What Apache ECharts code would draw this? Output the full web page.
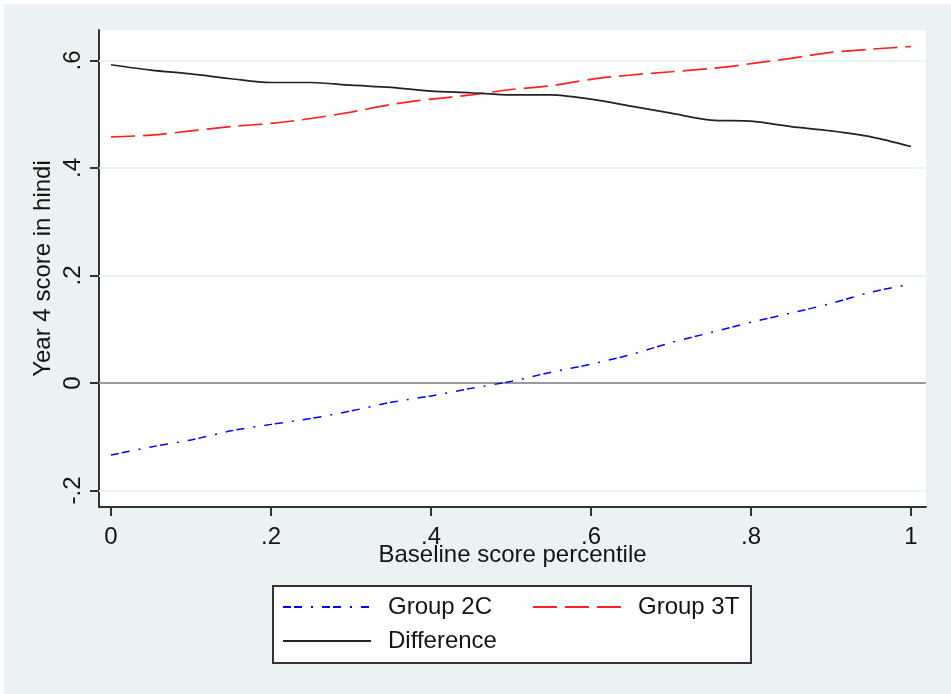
<!DOCTYPE html>
<html>
<head>
<meta charset="utf-8">
<title>Year 4 score in hindi</title>
<script src="https://cdn.jsdelivr.net/npm/echarts@6/dist/echarts.min.js"></script>
<style>
  html, body { margin: 0; padding: 0; background: #fff; }
  #main { width: 951px; height: 694px; }
</style>
</head>
<body>
<div id="main"></div>
<script>
// baseline score percentile
const percentiles = [0, 0.05, 0.1, 0.15, 0.2, 0.25, 0.3, 0.35, 0.4, 0.45, 0.5,
  0.55, 0.6, 0.65, 0.7, 0.75, 0.8, 0.85, 0.9, 0.95, 1];

const group2C = [-0.134, -0.119, -0.106, -0.089, -0.077, -0.066, -0.052, -0.036, -0.024, -0.010, 0.003,
  0.020, 0.035, 0.053, 0.075, 0.094, 0.113, 0.130, 0.148, 0.169, 0.184];
const group3T = [0.458, 0.461, 0.469, 0.477, 0.483, 0.492, 0.504, 0.518, 0.528, 0.536, 0.546,
  0.553, 0.565, 0.573, 0.579, 0.585, 0.594, 0.604, 0.615, 0.621, 0.626];
const difference = [0.592, 0.582, 0.575, 0.566, 0.559, 0.559, 0.554, 0.550, 0.543, 0.540, 0.536,
  0.536, 0.528, 0.515, 0.502, 0.489, 0.487, 0.477, 0.469, 0.458, 0.440];

const xTicks = [0, 0.2, 0.4, 0.6, 0.8, 1];
const xTickLabels = ['0', '.2', '.4', '.6', '.8', '1'];
const yTicks = [-0.2, 0, 0.2, 0.4, 0.6];
const yTickLabels = ['-.2', '0', '.2', '.4', '.6'];

const FONT = '"Liberation Sans", Arial, sans-serif';
const TEXT = '#141414';
const BG = '#eaf2f3';

function pairs(ys) {
  return percentiles.map((x, i) => [x, ys[i]]);
}
function tickLabel(ticks, labels) {
  return function (v) {
    const i = ticks.findIndex(t => Math.abs(t - v) < 1e-9);
    return i < 0 ? '' : labels[i];
  };
}

const chart = echarts.init(document.getElementById('main'));

const legendBase = {
  orient: 'horizontal',
  padding: 0,
  itemWidth: 88,
  itemHeight: 14,
  itemStyle: { opacity: 0 },
  selectedMode: false,
  textStyle: { fontFamily: FONT, fontSize: 24, color: TEXT, padding: [0, 0, 0, 12] },
  z: 10
};

const option = {
  backgroundColor: BG,
  animation: false,
  grid: {
    left: 99, top: 30, width: 827, height: 477,
    show: true, backgroundColor: '#fff', borderWidth: 0
  },
  legend: [
    Object.assign({}, legendBase, { data: ['Group 2C'], left: 282, top: 595 }),
    Object.assign({}, legendBase, { data: ['Group 3T'], left: 532, top: 595 }),
    Object.assign({}, legendBase, { data: ['Difference'], left: 282, top: 629 })
  ],
  graphic: [
    { type: 'rect', left: 0, top: 0, shape: { width: 951, height: 4 }, style: { fill: '#fff' }, silent: true },
    { type: 'rect', left: 0, top: 0, shape: { width: 4, height: 694 }, style: { fill: '#fff' }, silent: true },
    {
      type: 'rect', left: 272, top: 585, z: 0,
      shape: { width: 478, height: 77 },
      style: { fill: '#fff', stroke: '#333', lineWidth: 2 },
      silent: true
    }
  ],
  xAxis: {
    type: 'value',
    min: -0.015,
    max: 1.01875,
    name: 'Baseline score percentile',
    nameLocation: 'middle',
    nameGap: 36,
    nameMoveOverlap: false,
    nameTextStyle: { fontFamily: FONT, fontSize: 24, color: TEXT },
    axisLine: { onZero: false, lineStyle: { color: '#333', width: 2 } },
    axisTick: { customValues: xTicks, length: 9, lineStyle: { color: '#333', width: 2 } },
    axisLabel: {
      customValues: xTicks,
      formatter: tickLabel(xTicks, xTickLabels),
      margin: 18,
      fontFamily: FONT, fontSize: 24, color: TEXT
    },
    splitLine: { show: false }
  },
  yAxis: {
    type: 'value',
    min: -0.2307,
    max: 0.6567,
    name: 'Year 4 score in hindi',
    nameLocation: 'middle',
    nameRotate: 90,
    nameGap: 44,
    nameMoveOverlap: false,
    nameTextStyle: { fontFamily: FONT, fontSize: 24, color: TEXT },
    axisLine: { onZero: false, lineStyle: { color: '#333', width: 2 } },
    axisTick: { customValues: yTicks, length: 9, lineStyle: { color: '#333', width: 2 } },
    axisLabel: {
      customValues: yTicks,
      formatter: tickLabel(yTicks, yTickLabels),
      rotate: 90,
      margin: 14,
      fontFamily: FONT, fontSize: 24, color: TEXT
    },
    splitLine: { show: false }
  },
  series: [
    {
      name: 'Group 2C',
      type: 'line',
      data: pairs(group2C),
      symbol: 'none',
      smooth: 0.3,
      lineStyle: { color: '#0000ff', width: 1.5, type: [8, 3, 8, 9, 2, 9] },
      itemStyle: { color: '#0000ff' },
      z: 3,
      markLine: {
        silent: true,
        symbol: 'none',
        label: { show: false },
        animation: false,
        z: 1,
        data: yTicks.map(v => ({
          yAxis: v,
          lineStyle: v === 0
            ? { color: '#9a9a9a', width: 2, type: 'solid' }
            : { color: BG, width: 2, type: 'solid' }
        }))
      }
    },
    {
      name: 'Group 3T',
      type: 'line',
      data: pairs(group3T),
      symbol: 'none',
      smooth: 0.3,
      lineStyle: { color: '#ff2020', width: 1.7, type: [24, 8] },
      itemStyle: { color: '#ff2020' },
      z: 3
    },
    {
      name: 'Difference',
      type: 'line',
      data: pairs(difference),
      symbol: 'none',
      smooth: 0.3,
      lineStyle: { color: '#222', width: 1.7, type: 'solid' },
      itemStyle: { color: '#222' },
      z: 3
    }
  ]
};

chart.setOption(option);
</script>
</body>
</html>
